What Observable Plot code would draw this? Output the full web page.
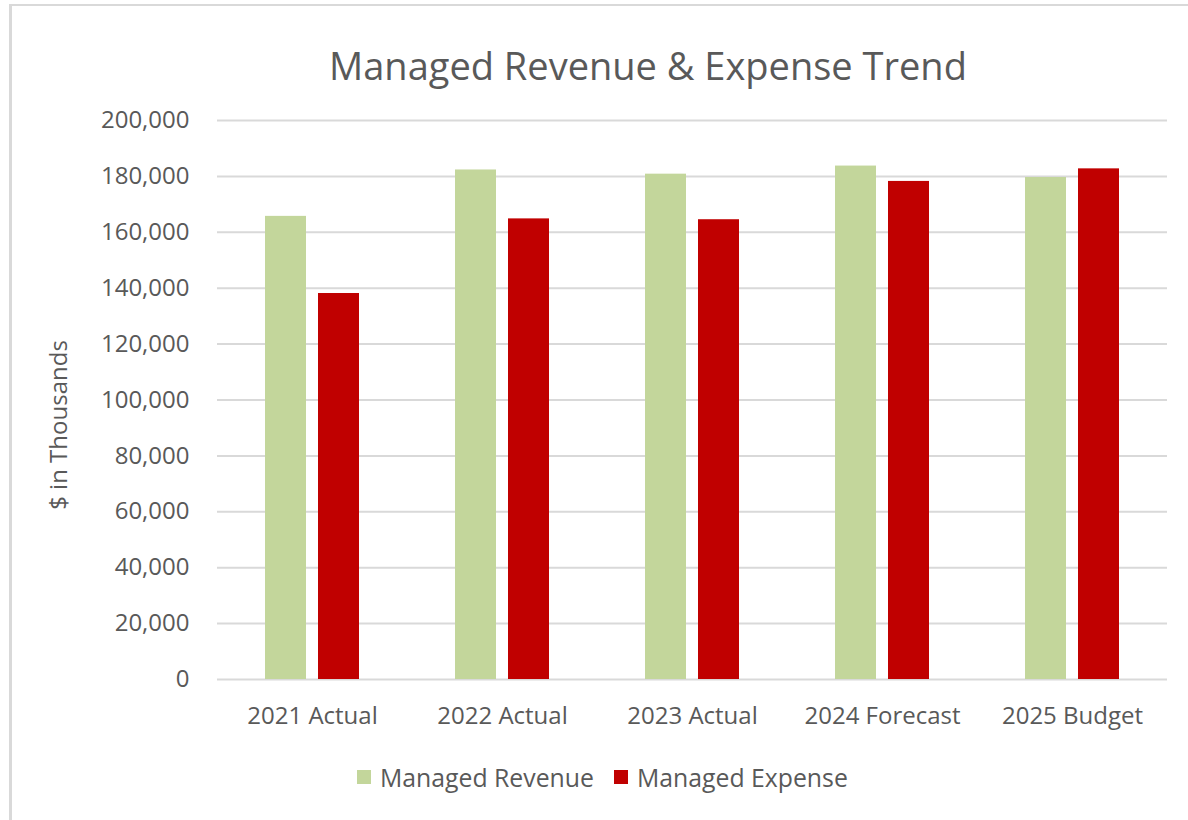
<!DOCTYPE html>
<html>
<head>
<meta charset="utf-8">
<script src="https://cdn.jsdelivr.net/npm/d3@7"></script>
<script src="https://cdn.jsdelivr.net/npm/@observablehq/plot@0.6"></script>
<style>
  html, body { margin: 0; padding: 0; background: #fff; }
  body { width: 1188px; height: 820px; position: relative; overflow: hidden; font-family: "Open Sans", sans-serif; color: #595959; }
  #frame { position: absolute; left: 9px; top: 4px; width: 1300px; height: 900px; border-top: 2px solid #d9d9d9; border-left: 3px solid #d9d9d9; }
  #title { position: absolute; top: 40px; left: 648px; transform: translateX(-50%); white-space: nowrap; font-size: 38px; line-height: 50px; color: #595959; }
  #chart { position: absolute; top: 95px; left: 0; }
  #ylabel { position: absolute; left: 57px; top: 425px; transform: translate(-50%, -50%) rotate(-90deg); white-space: nowrap; font-size: 24px; color: #595959; }
  #legend { position: absolute; top: 760px; left: 357px; display: flex; align-items: center; font-size: 24.8px; color: #595959; white-space: nowrap; }
  #legend .item { display: flex; align-items: center; margin-right: 20px; }
  #legend .sw { width: 14px; height: 14px; margin-right: 9px; }
</style>
</head>
<body>
<div id="frame"></div>
<div id="title"></div>
<div id="chart"></div>
<div id="ylabel"></div>
<div id="legend"></div>
<script>
const titleText = "Managed Revenue & Expense Trend";
const yLabelText = "$ in Thousands";
const categories = ["2021 Actual", "2022 Actual", "2023 Actual", "2024 Forecast", "2025 Budget"];
const seriesNames = ["Managed Revenue", "Managed Expense"];
const seriesColors = ["#c3d69b", "#c00000"];
const revenue = [165700, 182300, 180800, 183700, 179600];
const expense = [138100, 164800, 164500, 178200, 182700];
const yTicks = [0, 20000, 40000, 60000, 80000, 100000, 120000, 140000, 160000, 180000, 200000];

const rows = [];
categories.forEach((c, i) => {
  rows.push({category: c, series: seriesNames[0], value: revenue[i]});
  rows.push({category: c, series: seriesNames[1], value: expense[i]});
});

document.getElementById("title").textContent = titleText;
document.getElementById("ylabel").textContent = yLabelText;

const chart = Plot.plot({
  width: 1188,
  height: 650,
  marginTop: 25,
  marginBottom: 66,
  marginLeft: 216,
  marginRight: 20,
  style: {fontFamily: "Open Sans, sans-serif", fontSize: "24px", color: "#595959", background: "transparent"},
  fx: {domain: categories, padding: 0, label: null, axis: "bottom", tickSize: 0, tickPadding: 27},
  x: {domain: seriesNames, paddingInner: 0.222, paddingOuter: 0.874, axis: null},
  y: {domain: [0, 200000], ticks: yTicks, tickFormat: d3.format(","), tickSize: 0, tickPadding: 28, label: null},
  color: {domain: seriesNames, range: seriesColors},
  marks: [
    Plot.ruleY(yTicks, {stroke: "#d9d9d9", strokeWidth: 2}),
    Plot.barY(rows, {fx: "category", x: "series", y: "value", fill: "series"})
  ]
});
document.getElementById("chart").appendChild(chart);

const legend = document.getElementById("legend");
seriesNames.forEach((s, i) => {
  const item = document.createElement("div");
  item.className = "item";
  const sw = document.createElement("div");
  sw.className = "sw";
  sw.style.background = seriesColors[i];
  const t = document.createElement("span");
  t.textContent = s;
  item.appendChild(sw);
  item.appendChild(t);
  legend.appendChild(item);
});
</script>
</body>
</html>
